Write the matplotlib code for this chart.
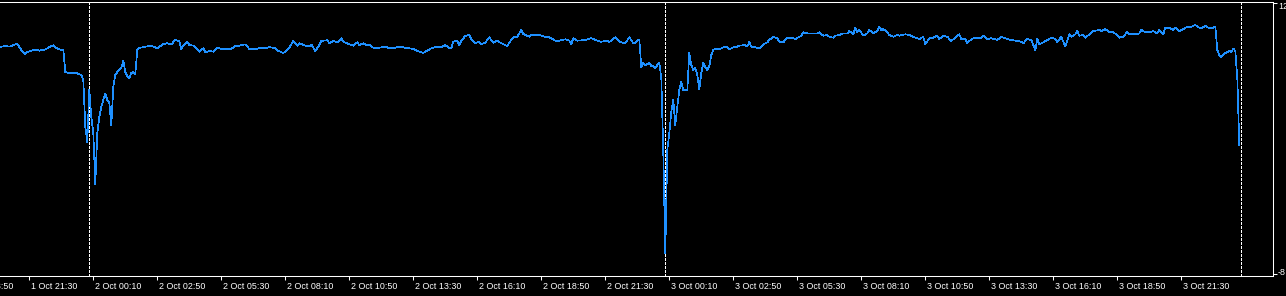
import matplotlib.pyplot as plt
from matplotlib.transforms import offset_copy

# M5 bars, bar 0 = 1 Oct 20:15
bar = [0, 3, 5, 8, 9, 11, 13, 14, 16, 18, 20, 23, 26, 27, 29, 31, 32, 33, 35, 37, 39, 41, 42,
       43, 44, 45, 46, 47, 48, 49, 50, 51, 52, 53, 54, 55, 56, 57, 58, 59, 60, 61, 62, 63, 64,
       65, 66, 67, 68, 69, 70, 73, 76, 79, 82, 84, 86, 88, 90, 91, 92, 94, 95, 97, 99, 100,
       102, 103, 105, 107, 109, 111, 116, 118, 120, 123, 125, 129, 130, 133, 135, 138, 139,
       142, 144, 145, 147, 149, 150, 153, 155, 156, 158, 160, 161, 164, 165, 167, 169, 171,
       172, 175, 177, 179, 180, 182, 184, 185, 187, 190, 193, 195, 198, 200, 203, 205, 207,
       209, 212, 214, 216, 219, 221, 223, 225, 226, 227, 229, 230, 231, 233, 235, 236, 238,
       240, 241, 243, 245, 247, 249, 251, 254, 255, 257, 259, 261, 262, 265, 266, 268, 270,
       273, 275, 278, 280, 283, 285, 286, 287, 289, 293, 296, 299, 301, 304, 305, 308, 310,
       313, 315, 317, 318, 320, 321, 322, 323, 324, 325, 326, 327, 328, 329, 330, 331, 332,
       333, 334, 335, 336, 337, 338, 339, 340, 341, 342, 343, 344, 345, 346, 347, 348, 349,
       350, 351, 352, 353, 354, 355, 356, 357, 358, 360, 362, 364, 365, 367, 369, 370, 373,
       374, 375, 376, 379, 380, 382, 384, 385, 387, 389, 390, 392, 394, 396, 398, 400, 401,
       402, 404, 406, 409, 410, 412, 414, 415, 417, 418, 420, 422, 424, 425, 427, 428, 429,
       430, 432, 434, 435, 437, 439, 440, 441, 442, 444, 445, 447, 449, 450, 453, 455, 458,
       460, 462, 463, 465, 467, 469, 470, 472, 474, 476, 478, 480, 481, 483, 484, 485, 487,
       490, 491, 492, 494, 496, 499, 501, 504, 506, 509, 511, 512, 514, 516, 518, 519, 520,
       522, 525, 526, 528, 529, 531, 532, 533, 535, 536, 538, 539, 540, 542, 543, 545, 547,
       550, 551, 553, 555, 557, 559, 560, 562, 564, 565, 568, 570, 571, 573, 575, 577, 579,
       580, 582, 583, 585, 587, 588, 590, 592, 594, 596, 598, 600, 601, 603, 605, 607, 608,
       609, 610, 611, 612, 613, 614, 615, 616, 617, 618, 619, 620]
value = [8.73, 8.81, 8.76, 8.92, 8.95, 8.51, 8.22, 8.36, 8.46, 8.55, 8.46, 8.56, 8.81, 8.86,
         8.61, 8.51, 8.51, 6.89, 6.79, 6.85, 6.79, 6.67, 6.30,
         2.83, 1.73, 5.56, 3.57, 2.39, -1.37, 2.39, 3.57, 4.31, 4.83, 5.27, 4.83, 4.60, 2.98,
         5.78, 6.67, 6.89, 7.04, 7.18, 7.70, 6.89, 6.59, 6.45, 6.82, 6.89, 6.74, 8.51, 8.66,
         8.76, 8.83, 8.64, 8.95, 9.01, 8.93, 9.25, 9.18, 8.59, 8.83, 9.12, 8.88, 8.83, 8.59,
         8.39, 8.64, 8.34, 8.44, 8.39, 8.68, 8.59, 8.59, 8.83, 8.83, 8.93, 8.59, 8.59, 8.68,
         8.64, 8.73, 8.64, 8.49, 8.29, 8.51, 8.68, 9.18, 8.83, 9.01, 8.83, 8.79, 8.93, 8.44,
         8.88, 9.18, 9.23, 9.01, 9.18, 9.08, 9.38, 9.12, 8.93, 8.83, 9.08, 8.88, 9.01, 8.83,
         8.93, 8.68, 8.68, 8.76, 8.64, 8.68, 8.76, 8.68, 8.64, 8.59, 8.44, 8.31, 8.46, 8.64,
         8.76, 8.71, 8.88, 8.64, 8.64, 9.12, 9.20, 8.88, 9.20, 9.55, 9.62, 9.30, 9.01, 9.12,
         8.95, 9.05, 9.45, 9.05, 9.20, 9.01, 8.81, 9.05, 9.45, 9.49, 9.99, 9.69, 9.49, 9.62,
         9.62, 9.62, 9.49, 9.45, 9.20, 9.20, 9.30, 9.20, 8.95, 9.38, 9.20, 9.25, 9.38, 9.20,
         9.12, 9.20, 9.10, 9.45, 9.12, 9.01, 9.45, 9.01, 9.05, 9.30,
         7.26, 7.55, 7.41, 7.48, 7.55, 7.33, 7.33, 7.18, 7.41, 7.55, 6.45, 0.92, -6.46, 1.14,
         2.39, 3.94, 4.83, 2.98, 4.31, 5.56, 6.15, 5.56, 5.56, 5.56, 8.29, 7.41, 7.04, 7.18,
         6.67, 5.64, 6.82, 7.55, 7.26, 7.04, 7.33, 8.14, 8.51, 8.62,
         8.56, 8.71, 8.76, 8.56, 8.71, 8.76, 8.83, 8.88, 8.76, 9.12, 8.76, 8.68, 8.64, 8.93,
         9.08, 9.25, 9.49, 9.38, 9.12, 9.08, 9.42, 9.42, 9.32, 9.49, 9.57, 9.82, 9.74, 9.74,
         9.74, 9.82, 9.57, 9.62, 9.49, 9.42, 9.57, 9.62, 9.74, 9.74, 9.91, 9.67, 10.16, 9.82,
         9.99, 9.57, 9.74, 9.99, 9.74, 9.91, 10.23, 9.99, 10.06, 9.82, 9.62, 9.49, 9.62, 9.57,
         9.67, 9.62, 9.42, 9.32, 9.49, 8.93, 9.38, 9.42, 9.57, 9.32, 9.57, 9.49, 9.18, 9.42,
         9.67, 9.32, 9.32, 9.01, 9.18, 9.38, 9.38, 9.42, 9.57, 9.32, 9.38, 9.25,
         9.49, 9.32, 9.25, 9.18, 9.12, 9.01, 9.32, 9.25, 8.51, 9.32, 8.93, 9.08, 9.32, 9.42,
         9.32, 9.08, 9.49, 9.12, 8.76, 9.67, 9.49, 9.67, 9.91, 9.57, 9.62, 9.42, 9.67, 9.91,
         9.99, 9.91, 10.06, 9.82, 9.82, 9.62, 9.42, 9.49, 9.86, 9.67, 9.67, 9.74, 9.99, 9.82,
         9.82, 9.91, 9.74, 9.99, 9.67, 10.16, 10.16, 9.99, 10.16, 9.91, 10.06, 10.23, 10.23,
         10.36, 10.16, 10.11, 10.30, 10.11, 10.16, 10.23,
         8.51, 8.14, 7.99, 8.14, 8.29, 8.36, 8.44, 8.36, 8.62, 8.44, 6.45, 1.51]

# time axis labels every 32 bars (2h40m), first one starts left of the view
tick_bars = [-17 + 32 * k for k in range(20)]
tick_labels = ["1 Oct 18:50", "1 Oct 21:30", "2 Oct 00:10", "2 Oct 02:50", "2 Oct 05:30",
               "2 Oct 08:10", "2 Oct 10:50", "2 Oct 13:30", "2 Oct 16:10", "2 Oct 18:50",
               "2 Oct 21:30", "3 Oct 00:10", "3 Oct 02:50", "3 Oct 05:30", "3 Oct 08:10",
               "3 Oct 10:50", "3 Oct 13:30", "3 Oct 16:10", "3 Oct 18:50", "3 Oct 21:30"]
day_breaks = [45, 333, 621]  # 2 Oct, 3 Oct, 4 Oct 00:00
y_ticks = [12, -8]

plt.rcParams['font.family'] = ['Liberation Sans', 'DejaVu Sans']

fig = plt.figure(figsize=(12.86, 2.96), dpi=100, facecolor='black')
ax = fig.add_axes([0, 20 / 296, 1273 / 1286, 274.5 / 296])
ax.set_facecolor('black')

ax.plot(bar, value, color='#1E90FF', lw=0.5, antialiased=False, zorder=3)
for b in day_breaks:
    ax.axvline(b, color='white', lw=0.5, dashes=(3, 2), antialiased=False, zorder=2)

ax.set_xlim(0.35, 636.85)
ax.set_ylim(-8.155, 12.09)

for side in ['top', 'right', 'bottom']:
    ax.spines[side].set_color('white')
    ax.spines[side].set_linewidth(0.75)
ax.spines['left'].set_visible(False)

ax.set_xticks(tick_bars[1:])
ax.set_yticks(y_ticks)
ax.tick_params(axis='x', colors='white', direction='out', length=3, width=0.75, labelbottom=False)
ax.tick_params(axis='y', colors='white', direction='out', length=3, width=0.75,
               left=False, right=True, labelleft=False, labelright=False)

# labels drawn by hand so the half-visible first one is kept
xlab = offset_copy(ax.get_xaxis_transform(), fig=fig, x=1.2, y=-9.4, units='points')
for b, lab in zip(tick_bars, tick_labels):
    ax.text(b, 0, lab, transform=xlab, color='white', fontsize=6.4,
            ha='left', va='baseline', clip_on=False)

ylab_top = offset_copy(ax.get_yaxis_transform(), fig=fig, x=3.8, y=-4.8, units='points')
ylab_bot = offset_copy(ax.get_yaxis_transform(), fig=fig, x=3.4, y=-0.8, units='points')
ax.text(1, 12, "12", transform=ylab_top, color='white', fontsize=6.4,
        ha='left', va='baseline', clip_on=False)
ax.text(1, -8, "-8", transform=ylab_bot, color='white', fontsize=6.4,
        ha='left', va='baseline', clip_on=False)

fig.savefig('out.png', dpi=100, facecolor='black')
